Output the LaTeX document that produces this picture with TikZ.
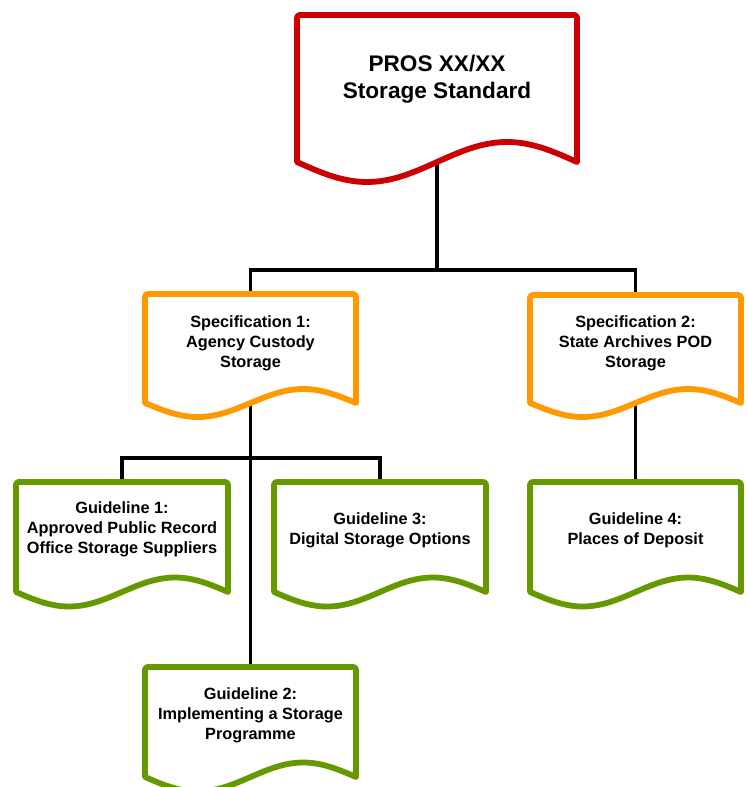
\documentclass[tikz,border=0pt]{standalone}
\usepackage{fontspec}
\setmainfont{Liberation Sans}
\usetikzlibrary{backgrounds}
\definecolor{docred}{RGB}{204,0,0}
\definecolor{docorange}{RGB}{255,153,0}
\definecolor{docgreen}{RGB}{102,153,0}
\tikzset{
  boxline/.style={line width=5.8pt, line join=round, line cap=round, fill=white},
  conn/.style={line width=3.3pt, draw=black},
  lbl/.style={align=center, inner sep=0pt, font=\bfseries\fontsize{16.3}{20}\selectfont},
  biglbl/.style={align=center, inner sep=0pt, font=\bfseries\fontsize{22.6}{27.5}\selectfont},
  area/.style={inner sep=0pt, draw=none}
}
% #1 name, #2 L, #3 T, #4 R, #5 B, #6 amplitude, #7 colour
\newcommand\docbox[7]{%
  \path[boxline, draw=#7] (#2,#5) -- (#2,{#3+6}) .. controls (#2,#3) .. ({#2+6},#3)
     -- ({#4-6},#3) .. controls (#4,#3) .. (#4,{#3+6}) -- (#4,#5)
     -- plot[domain=0:1, samples=61, smooth, variable=\t] ({#4-(#4-#2)*\t},{#5-#6*sin(360*\t)})
     -- cycle;
  \node[area, minimum width={(#4-#2)*1pt}, minimum height={(#5-#3)*1pt}] (#1) at ({(#2+#4)/2},{(#3+#5)/2}) {};
}
\begin{document}
\begin{tikzpicture}[x=1pt, y=-1pt]
\useasboundingbox (0,0) rectangle (747,787);
\clip (0,0) rectangle (747,787);
% boxes
\docbox{top}{297}{15}{577}{162}{20}{docred}
\docbox{spec1}{145}{294}{356}{403}{14}{docorange}
\docbox{spec2}{530}{295}{741}{403}{14}{docorange}
\docbox{g1}{16}{482}{228}{592}{14.5}{docgreen}
\docbox{g3}{274}{482}{486}{592}{14.5}{docgreen}
\docbox{g4}{530}{482}{741}{592}{14.5}{docgreen}
\docbox{g2}{145}{667}{356}{777}{14.5}{docgreen}
% labels
\node[biglbl] (toplbl) at (437,79) {PROS XX/XX\\Storage Standard};
\node[lbl] (spec1lbl) at (250.5,343.5) {Specification 1:\\Agency Custody\\Storage};
\node[lbl] (spec2lbl) at (635.5,343.5) {Specification 2:\\State Archives POD\\Storage};
\node[lbl] (g1lbl) at (122,529) {Guideline 1:\\Approved Public Record\\Office Storage Suppliers};
\node[lbl] (g3lbl) at (380,530.5) {Guideline 3:\\Digital Storage Options};
\node[lbl] (g4lbl) at (635.5,530) {Guideline 4:\\Places of Deposit};
\node[lbl] (g2lbl) at (250.5,715.5) {Guideline 2:\\Implementing a Storage\\Programme};
% connectors (behind boxes)
\coordinate (hub1) at (437,270);
\coordinate (hub2) at (250.5,458);
\begin{pgfonlayer}{background}
\draw[conn] (top.south) -- (hub1);
\draw[conn] (spec1.north) |- (hub1) -| (spec2.north);
\draw[conn] (spec1.south) -- (g2.north);
\draw[conn] (g1.north) |- (hub2) -| (g3.north);
\draw[conn] (spec2.south) -- (g4.north);
\end{pgfonlayer}
\end{tikzpicture}
\end{document}
